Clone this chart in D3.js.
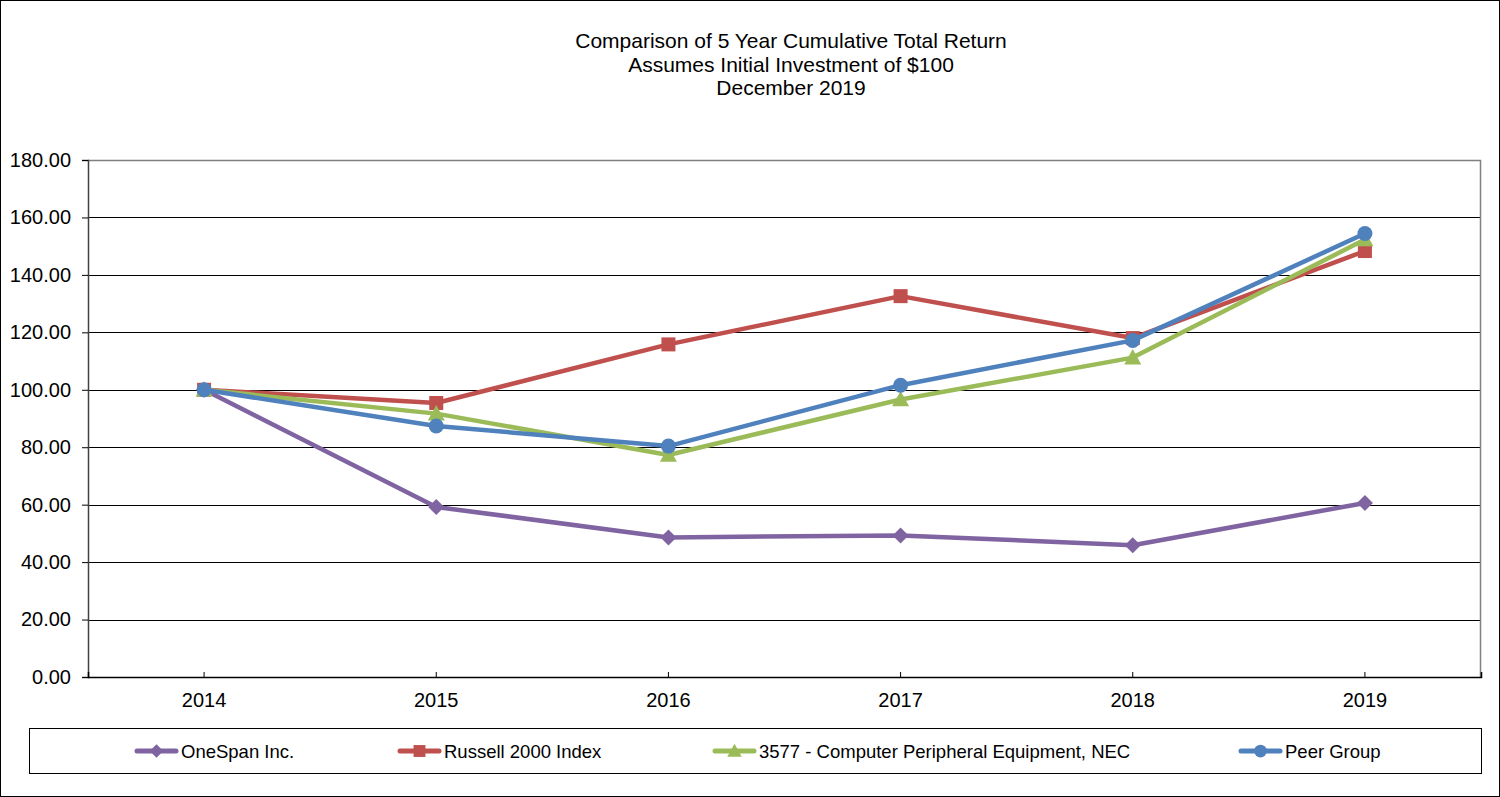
<!DOCTYPE html>
<html>
<head>
<meta charset="utf-8">
<script src="https://cdn.jsdelivr.net/npm/d3@7"></script>
<style>
  body { margin: 0; background: #fff; }
  svg { display: block; font-family: "Liberation Sans", Arial, sans-serif; }
</style>
</head>
<body>
<svg id="chart" width="1500" height="797"></svg>
<script>
const years = ['2014', '2015', '2016', '2017', '2018', '2019'];
const oneSpan = [100, 59.2, 48.6, 49.3, 45.9, 60.6];
const russell = [100, 95.4, 115.8, 132.6, 118.0, 148.3];
const computerPeripheral = [100, 91.7, 77.3, 96.6, 111.2, 152.3];
const peerGroup = [100, 87.4, 80.4, 101.6, 117.2, 154.4];
const yTicks = [0, 20, 40, 60, 80, 100, 120, 140, 160, 180];
const titleLines = ['Comparison of 5 Year Cumulative Total Return', 'Assumes Initial Investment of $100', 'December 2019'];

const series = [
  { name: 'OneSpan Inc.', values: oneSpan, color: '#8064A2', marker: 'diamond' },
  { name: 'Russell 2000 Index', values: russell, color: '#C0504D', marker: 'square' },
  { name: '3577 - Computer Peripheral Equipment, NEC', values: computerPeripheral, color: '#9BBB59', marker: 'triangle' },
  { name: 'Peer Group', values: peerGroup, color: '#4F81BD', marker: 'circle' }
];

const margin = { top: 160, right: 19, bottom: 120, left: 88 };
const width = 1500, height = 797;

const svg = d3.select('#chart');

// outer frame
svg.append('rect')
  .attr('x', 0.5).attr('y', 0.5)
  .attr('width', width - 1).attr('height', height - 1)
  .attr('fill', 'none').attr('stroke', '#000');

svg.append('g')
  .selectAll('text')
  .data(titleLines)
  .join('text')
  .attr('x', 791)
  .attr('y', (d, i) => 48 + i * 23.5)
  .attr('text-anchor', 'middle')
  .attr('font-size', 21)
  .text(d => d);

const x = d3.scaleBand()
  .domain(years)
  .range([margin.left, width - margin.right]);

const y = d3.scaleLinear()
  .domain([0, 180])
  .range([height - margin.bottom, margin.top]);

const cx = d => x(d) + x.bandwidth() / 2;

// gridlines
svg.append('g')
  .selectAll('line')
  .data(yTicks.filter(t => t > 0 && t < 180))
  .join('line')
  .attr('x1', margin.left).attr('x2', width - margin.right)
  .attr('y1', d => Math.round(y(d)) + 0.5).attr('y2', d => Math.round(y(d)) + 0.5)
  .attr('stroke', '#000').attr('stroke-width', 1);

// plot border (top/right in gray)
svg.append('path')
  .attr('d', `M${margin.left},${Math.round(y(180)) + 0.5}H${width - margin.right - 0.5}V${height - margin.bottom}`)
  .attr('fill', 'none').attr('stroke', '#808080').attr('stroke-width', 1.5);

// y axis
const yAxis = svg.append('g')
  .attr('transform', `translate(${margin.left},0)`)
  .call(d3.axisLeft(y).tickValues(yTicks).tickFormat(d3.format('.2f')).tickSize(6).tickPadding(11));
yAxis.select('.domain').attr('stroke', '#404040').attr('stroke-width', 1.5);
yAxis.selectAll('.tick line').attr('stroke', '#000');
yAxis.selectAll('text').attr('font-size', 20).attr('fill', '#000')
  .attr('font-family', '"Liberation Sans", Arial, sans-serif');

// x axis
const xAxis = svg.append('g')
  .attr('transform', `translate(0,${height - margin.bottom})`)
  .call(d3.axisBottom(x).tickSize(-5).tickPadding(16));
xAxis.select('.domain').attr('stroke', '#000').attr('stroke-width', 1.5);
xAxis.selectAll('.tick line').attr('stroke', '#000');
xAxis.selectAll('text').attr('font-size', 20).attr('fill', '#000')
  .attr('font-family', '"Liberation Sans", Arial, sans-serif');

const line = d3.line()
  .x((d, i) => cx(years[i]))
  .y(d => y(d));

function drawMarker(g, type, color, px, py, scale) {
  const s = scale || 1;
  if (type === 'diamond') {
    const r = 8 * s;
    g.append('path').attr('d', `M${px},${py - r}L${px + r},${py}L${px},${py + r}L${px - r},${py}Z`).attr('fill', color);
  } else if (type === 'square') {
    const r = 7 * s;
    g.append('rect').attr('x', px - r).attr('y', py - r).attr('width', 2 * r).attr('height', 2 * r).attr('fill', color);
  } else if (type === 'triangle') {
    const r = 8.5 * s;
    g.append('path').attr('d', `M${px},${py - r}L${px + r},${py + r * 0.8}L${px - r},${py + r * 0.8}Z`).attr('fill', color);
  } else {
    g.append('circle').attr('cx', px).attr('cy', py).attr('r', 7.5 * s).attr('fill', color);
  }
}

series.forEach(s => {
  const g = svg.append('g');
  g.append('path')
    .datum(s.values)
    .attr('d', line)
    .attr('fill', 'none')
    .attr('stroke', s.color)
    .attr('stroke-width', 4.5)
    .attr('stroke-linejoin', 'round');
  s.values.forEach((v, i) => drawMarker(g, s.marker, s.color, cx(years[i]), y(v)));
});

// legend
svg.append('rect')
  .attr('x', 29.5).attr('y', 728.5)
  .attr('width', 1452).attr('height', 45)
  .attr('fill', 'none').attr('stroke', '#000');

const legendX = [135, 398, 713, 1239];
series.forEach((s, i) => {
  const g = svg.append('g');
  const lx = legendX[i], ly = 751;
  g.append('line')
    .attr('x1', lx + 2).attr('x2', lx + 41)
    .attr('y1', ly).attr('y2', ly)
    .attr('stroke', s.color).attr('stroke-width', 5).attr('stroke-linecap', 'round');
  drawMarker(g, s.marker, s.color, lx + 21.5, ly, 0.85);
  g.append('text')
    .attr('x', lx + 46).attr('y', ly + 7)
    .attr('font-size', 18.5)
    .text(s.name);
});
</script>
</body>
</html>
